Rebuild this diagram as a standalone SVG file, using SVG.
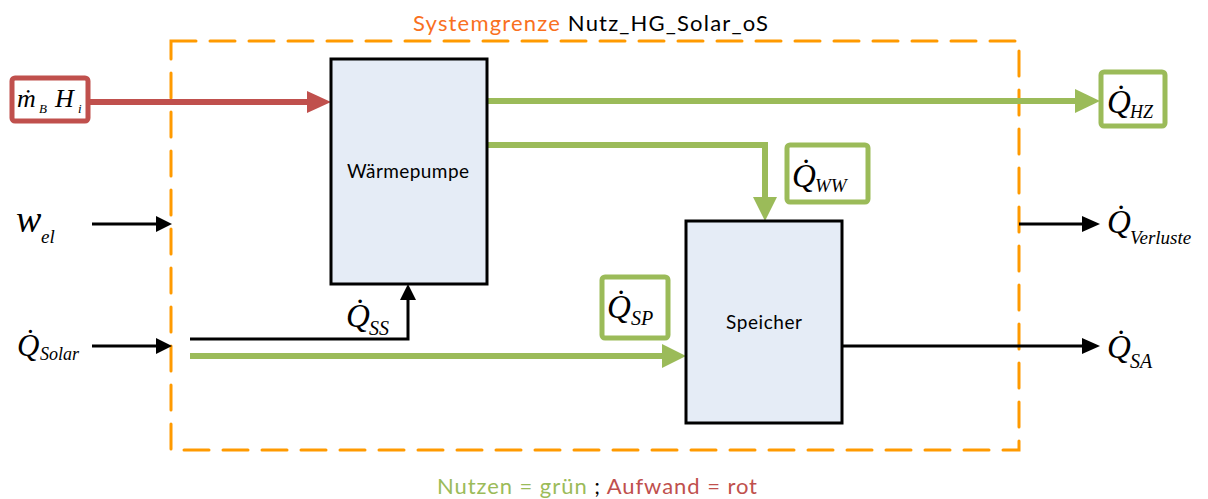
<svg xmlns="http://www.w3.org/2000/svg" width="1208" height="499" viewBox="0 0 1208 499">
<style>
.box{fill:#E5ECF6;stroke:#000;stroke-width:3}
.lbl{font-family:Lato,"Open Sans","Liberation Sans",sans-serif;fill:#000}
.m{font-family:"Liberation Serif","DejaVu Serif",serif;font-style:italic;fill:#000}
.g{stroke:#9BBB59;stroke-width:6;fill:none}
.gh{fill:#9BBB59}
.k{stroke:#000;stroke-width:3;fill:none}
.kh{fill:#000}
.r{stroke:#C0504D;stroke-width:6;fill:none}
.rh{fill:#C0504D}
.gbox{fill:#fff;stroke:#9BBB59;stroke-width:5}
.rbox{fill:#fff;stroke:#C0504D;stroke-width:5}
</style>
<rect width="1208" height="499" fill="#fff"/>
<g id="boundary">
<rect x="171" y="41" width="848" height="409" fill="none" stroke="#FF9A00" stroke-width="3" stroke-dasharray="25 14" stroke-linecap="round"/>
<text x="413" y="31" class="lbl" font-size="22" textLength="355"><tspan fill="#F9701E">Systemgrenze</tspan> <tspan fill="#000">Nutz_HG_Solar_oS</tspan></text>
</g>
<g id="connectors">
<line x1="89" y1="102" x2="309" y2="102" class="r"/>
<polygon points="307,91 331,102 307,113" class="rh"/>
<line x1="487" y1="101" x2="1077" y2="101" class="g"/>
<polygon points="1075,89 1100,101 1075,113" class="gh"/>
<polyline points="487,145 765,145 765,199" class="g"/>
<polygon points="753,197 777,197 765,221" class="gh"/>
<line x1="190" y1="356" x2="665" y2="356" class="g"/>
<polygon points="662,344 686,356 662,368" class="gh"/>
<polyline points="190,339 408,339 408,298" class="k"/>
<polygon points="400,300 416,300 408,284" class="kh"/>
<line x1="92" y1="224" x2="158" y2="224" class="k"/>
<polygon points="156,216 172,224 156,232" class="kh"/>
<line x1="92" y1="346" x2="158" y2="346" class="k"/>
<polygon points="156,338 172,346 156,354" class="kh"/>
<line x1="1019" y1="224" x2="1084" y2="224" class="k"/>
<polygon points="1082,216 1100,224 1082,232" class="kh"/>
<line x1="842" y1="346" x2="1084" y2="346" class="k"/>
<polygon points="1082,338 1100,346 1082,354" class="kh"/>
</g>
<g id="waermepumpe">
<rect x="331" y="59" width="156" height="225" class="box"/>
<text x="408" y="178" class="lbl" font-size="19" text-anchor="middle" textLength="122">Wärmepumpe</text>
</g>
<g id="speicher">
<rect x="686" y="221" width="156" height="202" class="box"/>
<text x="764" y="329" class="lbl" font-size="19" text-anchor="middle" textLength="76">Speicher</text>
</g>
<g id="mBHi">
<rect x="12" y="78" width="76" height="43" rx="3" class="rbox"/>
<text x="17" y="107" class="m" font-size="26">ṁ</text>
<text x="39" y="113" class="m" font-size="13">B</text>
<text x="55" y="107" class="m" font-size="26">H</text>
<text x="78" y="113" class="m" font-size="13">i</text>
</g>
<g id="QHZ">
<rect x="1101" y="72" width="64" height="54" rx="3" class="gbox"/>
<text x="1107" y="113" class="m" font-size="33">Q&#x307;</text>
<text x="1130" y="118" class="m" font-size="18">HZ</text>
</g>
<g id="QWW">
<rect x="787" y="145" width="81" height="57" rx="3" class="gbox"/>
<text x="792" y="187" class="m" font-size="33">Q&#x307;</text>
<text x="815" y="192" class="m" font-size="19">WW</text>
</g>
<g id="QSP">
<rect x="602" y="277" width="66" height="61" rx="3" class="gbox"/>
<text x="607" y="318" class="m" font-size="33">Q&#x307;</text>
<text x="631" y="325" class="m" font-size="20">SP</text>
</g>
<g id="QSS">
<text x="346" y="327" class="m" font-size="33">Q&#x307;</text>
<text x="369" y="335" class="m" font-size="20">SS</text>
</g>
<g id="wel">
<text x="16" y="232" class="m" font-size="38">w</text>
<text x="41" y="243" class="m" font-size="19">el</text>
</g>
<g id="QSolar">
<text x="17" y="356" class="m" font-size="31">Q&#x307;</text>
<text x="40" y="360" class="m" font-size="18">Solar</text>
</g>
<g id="QVerluste">
<text x="1107" y="233" class="m" font-size="33">Q&#x307;</text>
<text x="1130" y="244" class="m" font-size="19">Verluste</text>
</g>
<g id="QSA">
<text x="1107" y="358" class="m" font-size="33">Q&#x307;</text>
<text x="1130" y="368" class="m" font-size="20">SA</text>
</g>
<g id="legend">
<text x="437" y="494" class="lbl" font-size="22" textLength="320"><tspan fill="#9BBB59">Nutzen = grün</tspan><tspan fill="#000"> ; </tspan><tspan fill="#C0504D">Aufwand = rot</tspan></text>
</g>
</svg>
